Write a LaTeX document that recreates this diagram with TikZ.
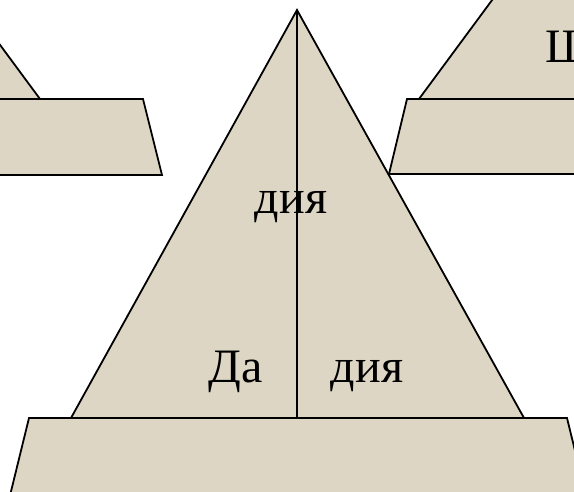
\documentclass[tikz,border=0pt]{standalone}
\usepackage{fontspec}
\setmainfont{Liberation Serif}
\usepackage{tikz}
\usetikzlibrary{positioning}
\usepackage{xcolor}
\definecolor{sandfill}{HTML}{DDD6C4}

\begin{document}
\begin{tikzpicture}[
  x=1pt, y=-1pt,
  block/.style={draw=black, fill=sandfill, line width=1.8pt, line join=miter},
  lbl/.style={font=\fontsize{48}{52}\selectfont, anchor=base, inner sep=0pt}
]
  \useasboundingbox (0,0) rectangle (574,492);
  \clip (0,0) rectangle (574,492);

  % Left pyramid (cut off)
  \draw[block] (-107,-100) -- (40,99) -- (-300,99) -- cycle;
  \draw[block] (-200,99) -- (143,99) -- (162,175) -- (-200,175) -- cycle;

  % Right pyramid (cut off)
  \draw[block] (566,-100) -- (419,99) -- (800,99) -- (800,-100) -- cycle;
  \draw[block] (407,99) -- (800,99) -- (800,174) -- (389,174) -- cycle;
  \node[lbl, anchor=base west] (sha) at (545,63) {Ш};

  % Main pyramid
  \coordinate (apex) at (297,10);
  \coordinate (base) at (297,418);
  \draw[block] (apex) -- (524,418) -- (71,418) -- cycle;
  \draw[line width=1.8pt] (apex) -- (base);
  \draw[block] (29,418) -- (567,418) -- (592,520) -- (4,520) -- cycle;

  % Labels
  \node[lbl] (mid) at (291,214) {дия};
  \node[lbl] (da) at (236,382) {Да};
  \node[lbl] (dia) at (367,382) {дия};
\end{tikzpicture}
\end{document}
